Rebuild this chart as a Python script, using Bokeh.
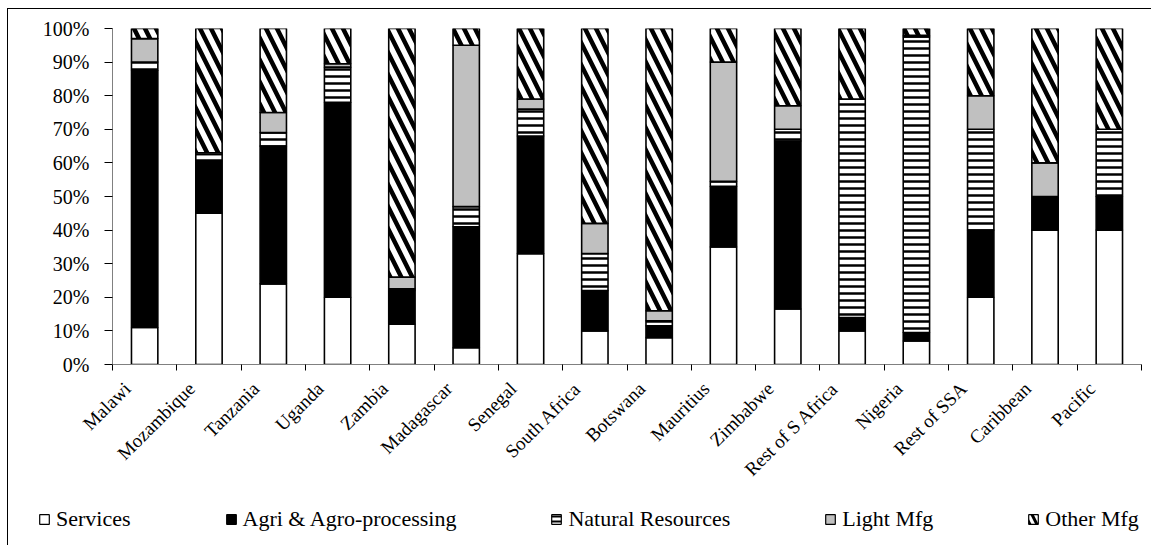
import math
from bokeh.plotting import figure
from bokeh.layouts import column
from bokeh.models import (ColumnDataSource, Range1d, FixedTicker, NumeralTickFormatter,
                          CustomJSTickFormatter, Legend)
from bokeh.embed import file_html
from bokeh.resources import INLINE

countries = ["Malawi", "Mozambique", "Tanzania", "Uganda", "Zambia", "Madagascar",
             "Senegal", "South Africa", "Botswana", "Mauritius", "Zimbabwe",
             "Rest of S Africa", "Nigeria", "Rest of SSA", "Caribbean", "Pacific"]

# shares in percent
services = [11, 45, 24, 20, 12, 5, 33, 10, 8, 35, 16.5, 10, 7, 20, 40, 40]
agri     = [76.5, 15.5, 41, 58, 10, 36, 35, 12, 3.5, 18, 50, 4, 2.5, 20, 10, 10]
natural  = [2.5, 2, 4, 10.5, 0.5, 6, 8, 11, 1.5, 1.5, 3.5, 65, 88, 30, 0, 20]
light    = [7, 0.5, 6, 1, 3.5, 48, 3, 9, 3, 35.5, 7, 0, 0.5, 10, 10, 0]
other    = [3, 37, 25, 10.5, 74, 5, 21, 58, 84, 10, 23, 21, 2, 20, 40, 30]

series_names = ["Services", "Agri & Agro-processing", "Natural Resources", "Light Mfg", "Other Mfg"]
y_ticks = [0, 0.1, 0.2, 0.3, 0.4, 0.5, 0.6, 0.7, 0.8, 0.9, 1.0]

keys = ["services", "agri", "natural", "light", "other"]
fills = ["white", "black", "white", "#C0C0C0", "white"]
hatches = [" ", " ", "-", " ", "\\"]
hweights = [1, 1, 2.5, 1, 4.5]
hscales = [12, 12, 7, 12, 22]

n = len(countries)
data = dict(x=[i + 0.5 for i in range(n)])
for k, vals in zip(keys, [services, agri, natural, light, other]):
    data[k] = [v / 100 for v in vals]
source = ColumnDataSource(data)

FONT = "Liberation Serif"

p = figure(width=1143, height=495,
           x_range=Range1d(0, n), y_range=Range1d(0, 1),
           output_backend="svg", toolbar_location=None,
           min_border_left=104, min_border_right=10, min_border_top=19, min_border_bottom=140)
p.frame_align = False
p.outline_line_color = None
p.grid.visible = False
p.background_fill_color = "white"
p.border_fill_color = "white"

p.vbar_stack(keys, x="x", width=0.41, source=source,
             fill_color=fills, line_color="black", line_width=1.6,
             hatch_pattern=hatches, hatch_color="black",
             hatch_weight=hweights, hatch_scale=hscales)

# label anchors sit a little left of the category centre (Excel-style rotated labels)
label_shift = 0.27
xa = p.xaxis[0]
xa.ticker = FixedTicker(ticks=[i + 0.5 - label_shift for i in range(n)],
                        minor_ticks=list(range(n + 1)))
xa.formatter = CustomJSTickFormatter(args=dict(labels=countries),
                                     code="return labels[Math.floor(tick)] || '';")
xa.major_label_orientation = math.pi / 4
xa.major_tick_out = 0
xa.major_tick_in = 0
xa.minor_tick_out = 6
xa.minor_tick_in = 0
xa.minor_tick_line_color = "black"
xa.axis_line_color = "#808080"
xa.major_label_standoff = 15
xa.major_label_text_font = FONT
xa.major_label_text_font_size = "19px"
xa.major_label_text_color = "black"

ya = p.yaxis[0]
ya.ticker = FixedTicker(ticks=y_ticks, minor_ticks=[])
ya.formatter = NumeralTickFormatter(format="0%")
ya.major_tick_out = 8
ya.major_tick_in = 0
ya.major_tick_line_color = "black"
ya.axis_line_color = "#808080"
ya.major_label_standoff = 15
ya.major_label_text_font = FONT
ya.major_label_text_font_size = "20px"
ya.major_label_text_color = "black"

# legend strip: a separate figure (same data, bars kept out of its view) so the legend is not clipped
lg = figure(width=1143, height=41, x_range=Range1d(-3, -2), y_range=Range1d(5, 6),
            output_backend="svg", toolbar_location=None,
            x_axis_location=None, y_axis_location=None,
            min_border=0, min_border_left=0, min_border_right=0,
            min_border_top=0, min_border_bottom=0)
lg.frame_align = False
lg.outline_line_color = None
lg.grid.visible = False
lg.background_fill_color = "white"
lg.border_fill_color = "white"
legend_renderers = lg.vbar_stack(keys, x="x", width=0.41, source=source,
                                 fill_color=fills, line_color="black", line_width=1.2,
                                 hatch_pattern=hatches, hatch_color="black",
                                 hatch_weight=[1, 1, 2, 1, 3], hatch_scale=[12, 12, 5, 12, 14])
legend = Legend(items=[(nm, [r]) for nm, r in zip(series_names, legend_renderers)],
                orientation="horizontal", location=(30, 13),
                spacing=94, padding=0, margin=0,
                glyph_width=12, glyph_height=12, label_standoff=6,
                border_line_color=None, background_fill_alpha=0,
                label_text_font=FONT, label_text_font_size="22px",
                label_text_color="black")
lg.add_layout(legend, "center")

layout = column(p, lg, spacing=0)
layout.styles = {"margin-left": "7px", "margin-top": "8px",
                 "border-top": "1px solid #000", "border-left": "1px solid #000"}

open("out.html", "w").write(file_html(layout, INLINE))
